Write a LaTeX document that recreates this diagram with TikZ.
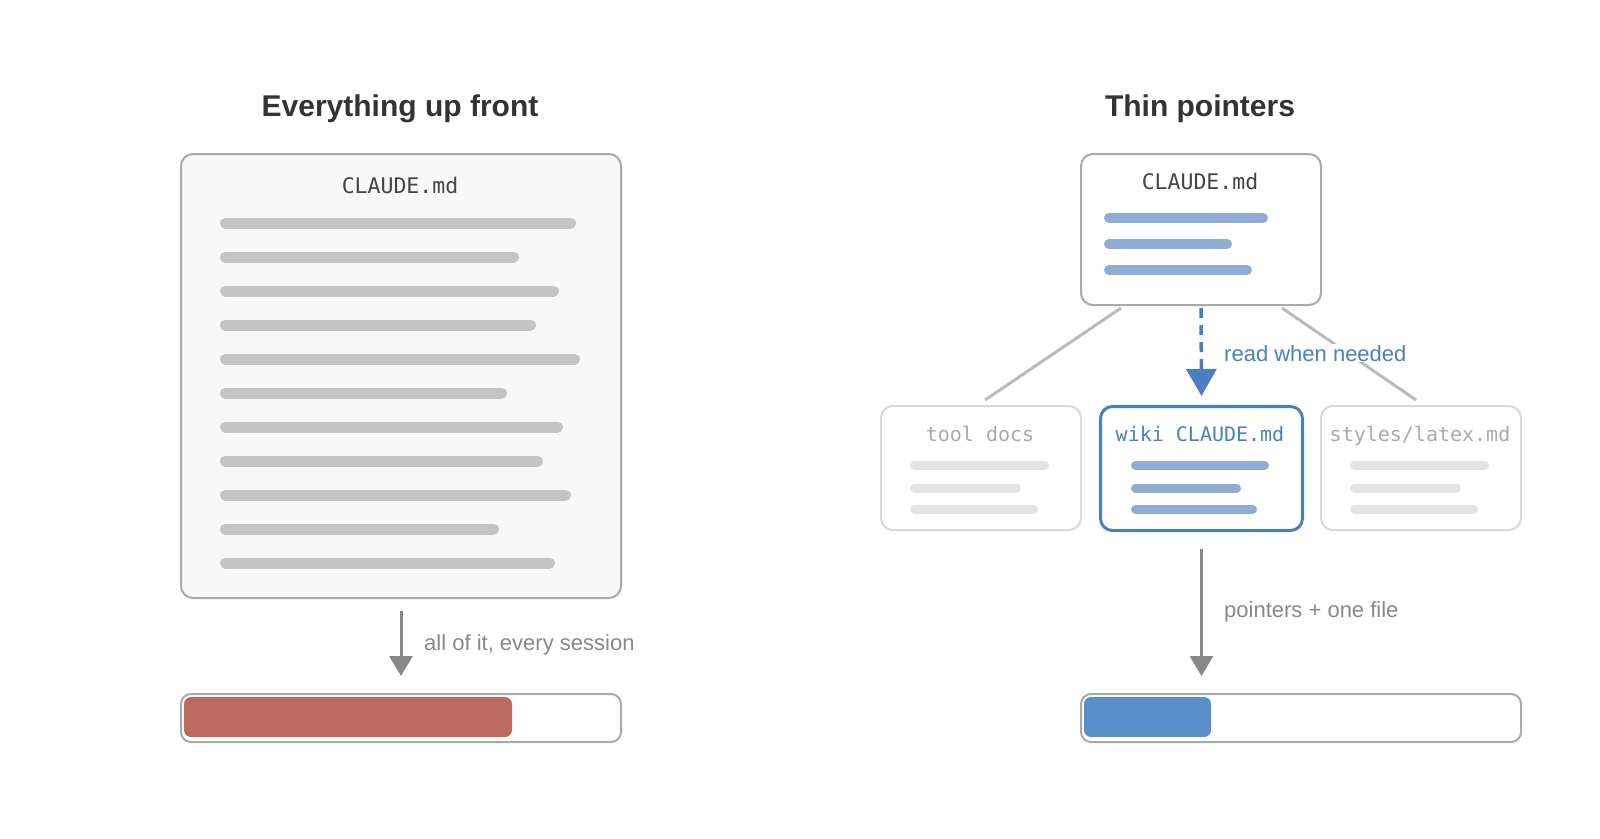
\documentclass[tikz,border=0pt]{standalone}
\usepackage{fontspec}
\setmainfont{Liberation Sans}
\setmonofont{DejaVu Sans Mono}
\usetikzlibrary{arrows.meta}
\definecolor{titlecol}{HTML}{333333}
\definecolor{monocol}{HTML}{444444}
\definecolor{boxborder}{HTML}{AAAAAA}
\definecolor{boxfill}{HTML}{F8F8F8}
\definecolor{graybar}{HTML}{C4C4C4}
\definecolor{bluebar}{HTML}{8FADD3}
\definecolor{lightborder}{HTML}{D9D9D9}
\definecolor{lightbar}{HTML}{E4E4E4}
\definecolor{lighttext}{HTML}{AAAAAA}
\definecolor{accent}{HTML}{4A7FC1}
\definecolor{bluefill}{HTML}{5B8FC9}
\definecolor{redfill}{HTML}{BD6A5E}
\definecolor{linkgray}{HTML}{BBBBBB}
\definecolor{arrowgray}{HTML}{888888}
\begin{document}
\begin{tikzpicture}[x=1pt,y=-1pt,
  title/.style={font=\fontsize{30}{36}\selectfont\bfseries, text=titlecol, anchor=base, inner sep=0pt},
  docbox/.style={draw=boxborder, line width=2pt, rounded corners=12pt, anchor=north west, inner sep=0pt},
  monolabel/.style={font=\ttfamily\fontsize{21.5}{26}\selectfont, text=monocol, anchor=base, inner sep=0pt},
  smallmono/.style={font=\ttfamily\fontsize{20}{24}\selectfont, anchor=base, inner sep=0pt},
  barline/.style={line cap=round},
  note/.style={font=\fontsize{22}{26}\selectfont, anchor=base west, inner sep=0pt},
  grayarrow/.style={draw=arrowgray, line width=3pt, -{Triangle[length=20pt,width=23pt]}},
  link/.style={draw=linkgray, line width=3pt},
]
\useasboundingbox (0,0) rectangle (1600,838);

% ---------- Left side ----------
\node[title] (lefttitle) at (400,116) {Everything up front};
\node[docbox, fill=boxfill, minimum width=440pt, minimum height=444pt] (leftdoc) at (180,153) {};
\node[monolabel] (leftname) at (400,193) {CLAUDE.md};
\foreach \yy/\rr in {223/576,257/519,291/559,325/536,359/580,393/507,427/563,461/543,495/571,529/499,563/555}
  \draw[barline, graybar, line width=11pt] (225.5,\yy) -- ({\rr-5.5},\yy);

\node[docbox, fill=white, rounded corners=10pt, minimum width=440pt, minimum height=48pt] (leftbar) at (180,693) {};
\fill[redfill, rounded corners=7pt] (184,697) rectangle (512,737);

\draw[grayarrow] ([yshift=-12pt]leftdoc.south) -- ([yshift=17pt]leftbar.north);
\node[note, text=arrowgray] (leftnote) at (424,650) {all of it, every session};

% ---------- Right side ----------
\node[title] (righttitle) at (1200,116) {Thin pointers};
\node[docbox, fill=white, minimum width=240pt, minimum height=151pt] (topdoc) at (1080,153) {};
\node[monolabel] (topname) at (1200,189) {CLAUDE.md};
\foreach \yy/\rr in {218/1268,244/1232,270/1252}
  \draw[barline, bluebar, line width=10pt] (1109,\yy) -- ({\rr-5},\yy);

\node[docbox, draw=lightborder, fill=white, minimum width=200pt, minimum height=124pt] (tooldocs) at (880,405) {};
\node[smallmono, text=lighttext] (toolname) at (980,441) {tool docs};
\foreach \yy/\rr in {465/1049,488/1021,509/1038}
  \draw[barline, lightbar, line width=9pt] (914.5,\yy) -- ({\rr-4.5},\yy);

\node[docbox, draw=accent, line width=3pt, fill=white, minimum width=202pt, minimum height=124pt] (wikidoc) at (1099,405) {};
\node[smallmono, text=accent] (wikiname) at (1200,441) {wiki CLAUDE.md};
\foreach \yy/\rr in {465/1269,488/1241,509/1257}
  \draw[barline, bluebar, line width=9pt] (1135.5,\yy) -- ({\rr-4.5},\yy);

\node[docbox, draw=lightborder, fill=white, minimum width=200pt, minimum height=124pt] (stylesdoc) at (1320,405) {};
\node[smallmono, text=lighttext] (stylesname) at (1420,441) {styles/latex.md};
\foreach \yy/\rr in {465/1489,488/1461,509/1478}
  \draw[barline, lightbar, line width=9pt] (1354.5,\yy) -- ({\rr-4.5},\yy);

% links from top doc
\draw[link] ([xshift=-80pt,yshift=-2pt]topdoc.south) -- ([xshift=4pt,yshift=5pt]tooldocs.north);
\draw[link] ([xshift=81pt,yshift=-2pt]topdoc.south) -- ([xshift=-5pt,yshift=5pt]stylesdoc.north);

\draw[draw=accent, line width=3.5pt, dash pattern=on 10pt off 7pt, -{Triangle[length=27pt,width=30pt]}]
  ([yshift=-2pt]topdoc.south) -- ([yshift=9pt]wikidoc.north);
\node[note, text=accent, fill=white, inner sep=1pt] (readnote) at (1223,361) {read when needed};

% bottom bar
\node[docbox, fill=white, rounded corners=10pt, minimum width=440pt, minimum height=48pt] (rightbar) at (1080,693) {};
\fill[bluefill, rounded corners=7pt] (1084,697) rectangle (1211,737);

\coordinate (rightin) at ([yshift=17pt]wikidoc.south |- rightbar.north);
\draw[grayarrow] ([yshift=-17pt]wikidoc.south) -- (rightin);
\node[note, text=arrowgray] (rightnote) at (1224,617) {pointers + one file};
\end{tikzpicture}
\end{document}
